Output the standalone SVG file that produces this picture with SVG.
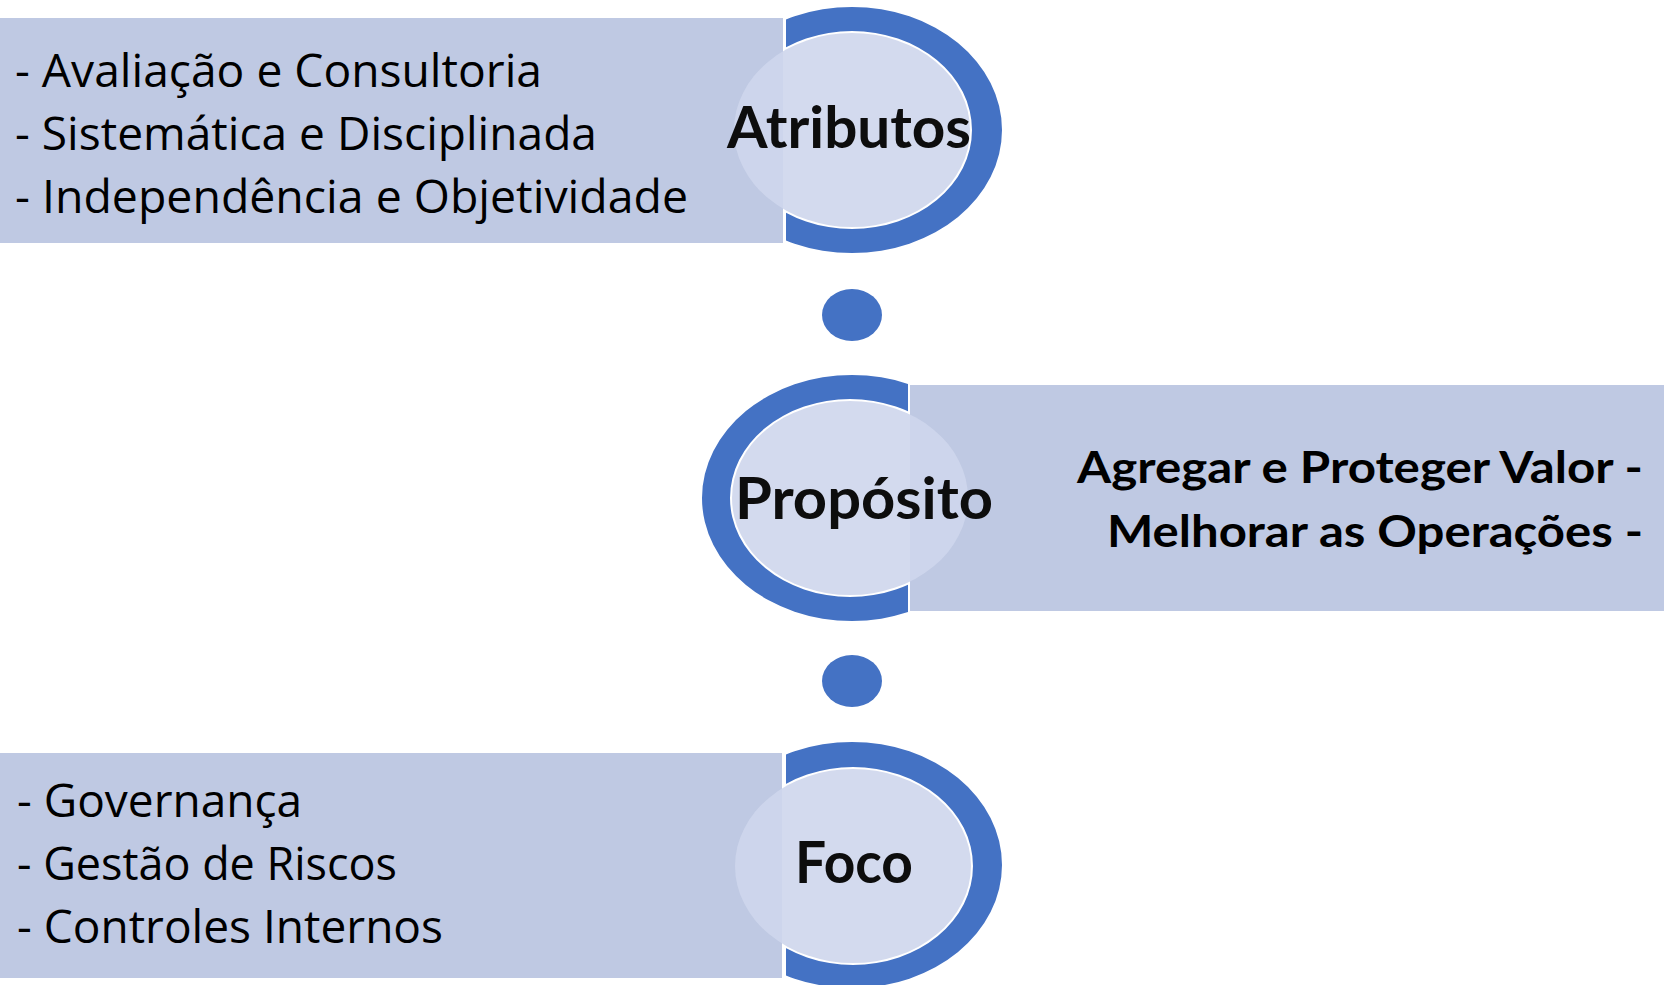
<svg xmlns="http://www.w3.org/2000/svg" width="1664" height="985" viewBox="0 0 1664 985">
  <style>
    .box { fill: #BFC9E3; }
    .ring { fill: #4472C4; fill-rule: evenodd; }
    .core { fill: #CED6EC; fill-opacity: 0.9; }
    .dot { fill: #4472C4; }
    .title, .list, .side { font-variant-ligatures: none; }
    .title { font-family: Lato, "Open Sans", "Liberation Sans", sans-serif; font-weight: 700; font-size: 58px; fill: #0d0d0d; }
    .list { font-family: "Open Sans", "Noto Sans", "Liberation Sans", sans-serif; font-weight: 400; font-size: 46px; fill: #000; }
    .side { font-family: Lato, "Open Sans", "Liberation Sans", sans-serif; font-weight: 700; font-size: 43px; fill: #000; }
  </style>
  <defs>
    <clipPath id="clipRight"><rect x="786" y="0" width="300" height="985"/></clipPath>
    <clipPath id="clipLeft"><rect x="600" y="0" width="308" height="985"/></clipPath>
  </defs>
  <rect width="1664" height="985" fill="#ffffff"/>

  <g id="atributos">
    <rect class="box" x="0" y="18" width="783" height="225"/>
    <path class="ring" clip-path="url(#clipRight)" d="M702,130 a150,123 0 1,0 300,0 a150,123 0 1,0 -300,0 Z M732,130 a120,99 0 1,0 240,0 a120,99 0 1,0 -240,0 Z"/>
    <ellipse class="core" cx="852" cy="130" rx="118" ry="97"/>
    <text class="title" x="727" y="148" textLength="244" lengthAdjust="spacingAndGlyphs">Atributos</text>
    <text class="list" x="15" y="87" textLength="527" lengthAdjust="spacingAndGlyphs">- Avaliação e Consultoria</text>
    <text class="list" x="15" y="150" textLength="582" lengthAdjust="spacingAndGlyphs">- Sistemática e Disciplinada</text>
    <text class="list" x="15" y="213" textLength="673" lengthAdjust="spacingAndGlyphs">- Independência e Objetividade</text>
  </g>

  <g id="proposito">
    <rect class="box" x="910" y="385" width="754" height="226"/>
    <path class="ring" clip-path="url(#clipLeft)" d="M702,498 a150,123 0 1,0 300,0 a150,123 0 1,0 -300,0 Z M730,498 a120,99 0 1,0 240,0 a120,99 0 1,0 -240,0 Z"/>
    <ellipse class="core" cx="850" cy="498" rx="118" ry="97"/>
    <text class="title" x="735" y="519" textLength="258" lengthAdjust="spacingAndGlyphs">Propósito</text>
    <text class="side" x="1077" y="483" textLength="566" lengthAdjust="spacingAndGlyphs">Agregar e Proteger Valor -</text>
    <text class="side" x="1107" y="547" textLength="536" lengthAdjust="spacingAndGlyphs">Melhorar as Operações -</text>
  </g>

  <g id="foco">
    <rect class="box" x="0" y="753" width="782" height="225"/>
    <path class="ring" clip-path="url(#clipRight)" d="M702,865 a150,123 0 1,0 300,0 a150,123 0 1,0 -300,0 Z M733,866 a120,99 0 1,0 240,0 a120,99 0 1,0 -240,0 Z"/>
    <ellipse class="core" cx="853" cy="866" rx="118" ry="97"/>
    <text class="title" x="795" y="883" textLength="118" lengthAdjust="spacingAndGlyphs">Foco</text>
    <text class="list" x="17" y="817" textLength="285" lengthAdjust="spacingAndGlyphs">- Governança</text>
    <text class="list" x="17" y="880" textLength="380" lengthAdjust="spacingAndGlyphs">- Gestão de Riscos</text>
    <text class="list" x="17" y="943" textLength="426" lengthAdjust="spacingAndGlyphs">- Controles Internos</text>
  </g>

  <g id="connectors">
    <ellipse class="dot" cx="852" cy="315" rx="30" ry="26"/>
    <ellipse class="dot" cx="852" cy="681" rx="30" ry="26"/>
  </g>
</svg>
